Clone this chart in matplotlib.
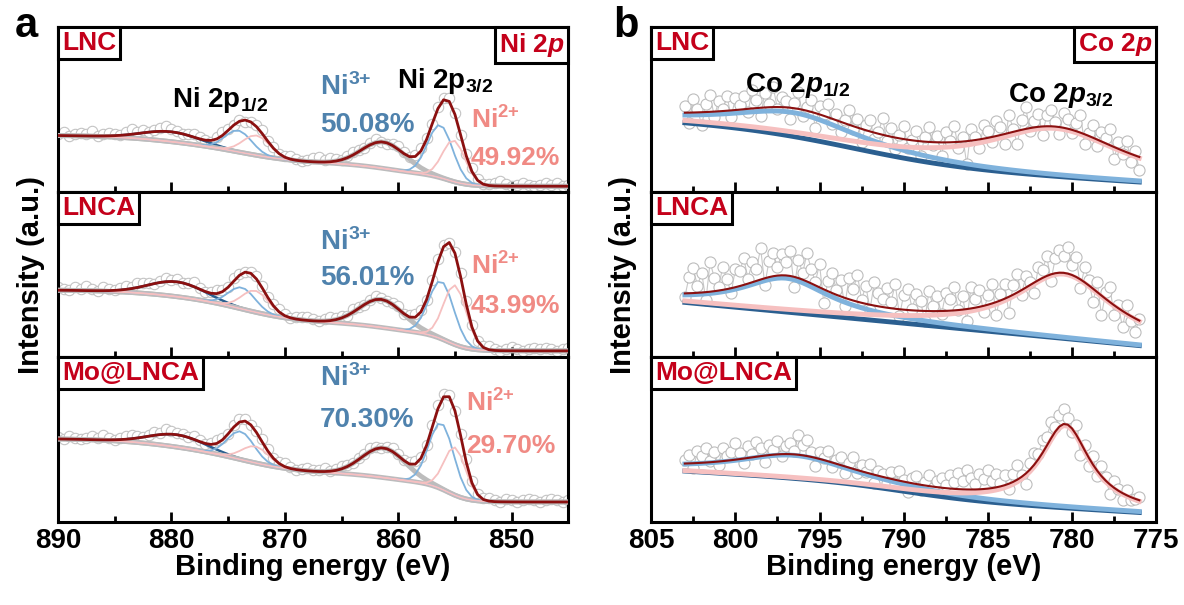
import numpy as np
import matplotlib.pyplot as plt
from matplotlib.ticker import MultipleLocator

plt.rcParams['font.family'] = ['Liberation Sans', 'DejaVu Sans']
plt.rcParams['font.weight'] = 'bold'
plt.rcParams['mathtext.fontset'] = 'custom'
plt.rcParams['mathtext.rm'] = 'Liberation Sans:bold'
plt.rcParams['mathtext.it'] = 'Liberation Sans:italic:bold'
plt.rcParams['mathtext.bf'] = 'Liberation Sans:bold'

samples = ['LNC', 'LNCA', 'Mo@LNCA']

# ---------------- Ni 2p (panel a) ----------------
ni_be = np.arange(890, 844.9, -0.5)
# peaks: Ni3+ 2p3/2, Ni2+ 2p3/2, sat, Ni3+ 2p1/2, Ni2+ 2p1/2, sat
ni_center = [[856.3, 855.1, 861.3, 874.1, 872.5, 880.0],
             [856.2, 855.0, 861.5, 873.8, 872.6, 879.5],
             [856.2, 855.0, 861.3, 873.9, 872.6, 879.5]]
ni_height = [[0.32, 0.25, 0.16, 0.13, 0.12, 0.06],
             [0.35, 0.36, 0.17, 0.13, 0.13, 0.09],
             [0.40, 0.29, 0.18, 0.17, 0.10, 0.075]]
ni_fwhm = [[2.6, 2.35, 4.5, 2.8, 2.8, 6.0],
           [2.6, 2.35, 4.5, 2.8, 2.8, 5.8],
           [2.6, 2.25, 4.5, 2.8, 2.8, 5.8]]
ni_bg_low = [0.036, 0.038, 0.122]
ni_bg_step = [[0.065, 0.075, 0.11, 0.06],
              [0.10, 0.07, 0.15, 0.05],
              [0.11, 0.065, 0.14, 0.07]]
ni_bg_step_center = [855.6, 860.8, 873.5, 880.5]
ni_bg_step_width = [0.9, 2.0, 2.5, 3.0]
ni_resid = [
    [1, 2, 0, 1, 2, 1, 3, 0, 1, 2, 1, 0, 2, 3, 1, 2, 0, 1, 2, 3,
     2, 1, 0, 1, 2, 1, 0, -1, 1, 2, 1, 0, 1, -1, 0, 1, 2, 0, 1, 0,
     1, 2, 1, 0, 1, 2, 3, 1, 2, 1, 0, 1, 2, 1, 0, 1, 2, 0, -1, 1,
     2, 1, 0, 1, 2, 1, 0, 1, 1, 2, 1, 0, 1, 2, 1, 0, 1, 2, 3, 1,
     0, 1, 2, 1, 0, 1, 2, 1, 2, 0, 1],
    [2, 1, 0, 2, 1, 3, 1, 0, 2, 1, 0, 1, 2, 1, 3, 2, 1, 0, 1, 2,
     1, 2, 0, 1, 3, 1, 0, 1, 2, 1, 0, 2, 1, 0, 1, 2, 1, 0, 1, 2,
     1, 0, 1, 2, 2, 1, 0, 1, 2, 1, 1, 0, 2, 1, 0, 1, 2, 1, 0, 1,
     2, 0, 1, 2, 1, 0, 1, 2, 1, 0, 1, 2, 2, 1, 0, 1, 2, 1, 0, 1,
     2, 1, 0, 1, 2, 1, 2, 1, 0, 1, 2],
    [1, 0, 2, 1, 0, 1, 2, 1, 3, 1, 0, 1, 2, 2, 1, 0, 1, 2, 1, 3,
     2, 1, 1, 0, 2, 1, 0, 1, 2, 1, 0, 1, 2, 1, 0, 1, 2, 1, 0, 1,
     2, 1, 0, 1, 2, 1, 1, 2, 0, 1, 2, 1, 0, 1, 1, 2, 1, 0, 1, 2,
     1, 0, 1, 2, 1, 0, 1, 2, 2, 1, 0, 1, 2, 1, 0, 1, 2, 1, 0, 2,
     1, 0, 1, 2, 1, 0, 1, 2, 1, 0, 1]]
ni3_pct = ['50.08%', '56.01%', '70.30%']
ni2_pct = ['49.92%', '43.99%', '29.70%']
ni3_pos = [(0.636, 0.41), (0.70, 0.48), (0.87, 0.62)]
ni2_pos = [(853.6, 0.437, 0.21), (853.6, 0.55, 0.31), (854.0, 0.72, 0.46)]

# ---------------- Co 2p (panel b) ----------------
co_be = np.arange(803, 775.9, -0.25)
# peaks: Co 2p1/2, Co 2p3/2
co_center = [[796.5, 781.0], [797.0, 780.5], [796.5, 780.4]]
co_height = [[0.145, 0.29], [0.205, 0.39], [0.14, 0.50]]
co_fwhm = [[9.0, 10.0], [6.4, 7.0], [8.6, 3.5]]
co_bg_low = [0.06, 0.07, 0.058]
co_bg_slope = [0.006, 0.0097, 0.006]
co_bg_step = [0.21, 0.0, 0.09]
co_bg_step_center = [793.0, 790.0, 790.0]
co_bg_step_width = [3.5, 3.0, 2.5]
co_resid = [
    [4, -6, 8, 2, -8, 5, 10, -3, 6, 1, 9, -4, 7,
     3, 8, -2, 11, 5, -5, 9, 2, 12, -1, 6, 4,
     -7, 3, 10, -4, 2, 7, -9, 5, 1, 8, -3, 4,
     -6, 2, 9, -2, 5, -8, 3, 7, -4, 1, 10, -3,
     5, -7, 2, 8, -5, 0, 6, -9, 3, 9, -2, 4,
     -8, 6, 1, 10, -4, 3, -14, 7, 2, -5, 8, 4,
     -3, 9, 5, -6, 11, 2, -8, 6, 13, -2, 4, 8,
     -5, 7, 10, 3, -4, 9, 6, -2, 5, 11, -6, 2,
     8, -4, 6, 3, 10, -7, 4, -2, 7, -5, 3, -8],
    [-2, 10, 15, 4, 12, -5, 18, 8, 2, 14, 6, -3, 11,
     9, 16, 3, 12, 7, 19, -4, 10, 14, 5, 13, 8,
     15, -6, 11, 4, 17, 9, 2, 14, -8, 6, 12, 3,
     10, -5, 13, 7, 16, 2, 11, -3, 14, 8, 5, 12,
     4, 15, -4, 9, 13, 1, 10, 6, -6, 12, 3, 9,
     -2, 11, 7, 14, 0, 8, -7, 13, 5, 10, -4, 6,
     12, -8, 4, 9, -10, 6, 11, -3, 7, 2, -6, 8,
     5, 12, -4, 9, 14, 10, 16, 6, 12, -5, 9, 3,
     -8, 6, -12, 4, 9, -6, 2, -10, 5, -3, -8, 1],
    [2, 5, -3, 7, 4, 9, 1, 6, -2, 8, 3, 5, 10,
     4, -3, 7, 2, 9, 5, -4, 6, 3, 8, -1, 5,
     7, 2, 12, 6, 10, 3, -5, 4, 1, 6, -3, 2,
     5, -4, 3, 7, -2, 4, 0, 6, -5, 3, 2, -3,
     4, -2, 6, 1, -6, 3, 5, -3, 2, 7, -1, 4,
     6, 2, 8, 4, 10, 5, 12, 7, 3, 9, 6, 11,
     4, 8, 2, 6, -3, 5, 9, 1, -6, 4, 7, 3,
     8, 5, 10, 3, 7, 9, 4, -2, 6, -8, 3, -5,
     5, -3, 6, 2, -6, 4, 1, -4, 3, -2, 0, 2]]

RED = '#c4001a'
BLUE_T = '#4f82ad'
PINK_T = '#f08a84'
ENV = '#8b1010'
LBLUE = '#7fb2dc'
PINK = '#f6c0c0'
DBLUE = '#2b5f90'
GRAY = '#bcbcbc'


def peak(e, c, h, fwhm, eta):
    g = np.exp(-4 * np.log(2) * ((e - c) / fwhm) ** 2)
    lo = 1 / (1 + 4 * ((e - c) / fwhm) ** 2)
    return h * ((1 - eta) * g + eta * lo)


def sig(x):
    return 1 / (1 + np.exp(-x))


def tag(ax, s, right=False):
    pad = 3
    ax.annotate(s, xy=(1 if right else 0, 1), xycoords='axes fraction',
                xytext=(-pad if right else pad, -pad), textcoords='offset points',
                ha='right' if right else 'left', va='top', fontsize=19,
                color=RED, fontweight='bold', zorder=10,
                bbox=dict(boxstyle='square,pad=0.15', fc='white', ec='black', lw=2.2))


def style(ax, last, major, minor):
    for sp in ax.spines.values():
        sp.set_linewidth(2.2)
    ax.set_yticks([])
    ax.xaxis.set_major_locator(MultipleLocator(major))
    ax.xaxis.set_minor_locator(MultipleLocator(minor))
    ax.tick_params(axis='x', which='both', direction='in', top=False, width=2,
                   labelsize=20, pad=4, labelbottom=last)
    ax.tick_params(axis='x', which='major', length=7)
    ax.tick_params(axis='x', which='minor', length=4)
    ax.set_ylim(0, 1)


fig = plt.figure(figsize=(11.84, 6.05), dpi=100)
h = 0.818 / 3
bot = 0.137

# panel a
for i in range(3):
    ax = fig.add_axes([0.049, bot + (2 - i) * h, 0.431, h])
    e = ni_be
    bg = ni_bg_low[i] + sum(s * sig((e - c) / w) for s, c, w in
                            zip(ni_bg_step[i], ni_bg_step_center, ni_bg_step_width))
    comps = [peak(e, c, hh, f, 0.0) for c, hh, f in
             zip(ni_center[i], ni_height[i], ni_fwhm[i])]
    env = bg + sum(comps)
    ax.plot(e, env + np.array(ni_resid[i]) / 100, 'o', ms=7.5, mfc='white',
            mec='#c4c4c4', mew=0.8, zorder=1)
    ax.plot(e, bg + comps[5], color=DBLUE, lw=1.8, zorder=2)
    ax.plot(e, bg, color=GRAY, lw=3.5, zorder=3)
    ax.plot(e, bg + comps[2], color=GRAY, lw=3.5, zorder=3)
    for k in (0, 3):
        ax.plot(e, bg + comps[k], color=LBLUE, lw=1.3, zorder=4)
    for k in (1, 4):
        ax.plot(e, bg + comps[k], color=PINK, lw=1.3, zorder=4)
    ax.plot(e, env, color=ENV, lw=2, zorder=5)
    ax.set_xlim(890, 845)
    style(ax, i == 2, 10, 5)
    tag(ax, samples[i])
    ax.text(866.9, ni3_pos[i][0], 'Ni$^{3{+}}$', color=BLUE_T, fontsize=20,
            ha='left', va='center')
    ax.text(866.9, ni3_pos[i][1], ni3_pct[i], color=BLUE_T, fontsize=20,
            ha='left', va='center')
    ax.text(ni2_pos[i][0], ni2_pos[i][1], 'Ni$^{2{+}}$', color=PINK_T, fontsize=19,
            ha='left', va='center')
    ax.text(ni2_pos[i][0], ni2_pos[i][2], ni2_pct[i], color=PINK_T, fontsize=19,
            ha='left', va='center')
    if i == 0:
        tag(ax, 'Ni 2$p$', right=True)
        ax.text(875.7, 0.557, 'Ni 2p$_{1/2}$', fontsize=20, ha='center', va='center')
        ax.text(855.9, 0.676, 'Ni 2p$_{3/2}$', fontsize=20, ha='center', va='center')

# panel b
for i in range(3):
    ax = fig.add_axes([0.55, bot + (2 - i) * h, 0.4265, h])
    e = co_be
    bg = (co_bg_low[i] + co_bg_slope[i] * (e - e.min())
          + co_bg_step[i] * sig((e - co_bg_step_center[i]) / co_bg_step_width[i]))
    p1 = peak(e, co_center[i][0], co_height[i][0], co_fwhm[i][0], 1.0)
    p2 = peak(e, co_center[i][1], co_height[i][1], co_fwhm[i][1], 1.0)
    env = bg + p1 + p2
    ax.plot(e, env + np.array(co_resid[i]) / 100, '-o', color='#c8c8c8', lw=0.8,
            ms=8, mfc='white', mec='#bdbdbd', mew=0.8, zorder=1)
    ax.plot(e, bg, color=DBLUE, lw=3.5, zorder=2)
    ax.plot(e, bg + p1, color=LBLUE, lw=3.5, zorder=3)
    ax.plot(e, bg + p2, color=PINK, lw=3.5, zorder=4)
    ax.plot(e, env, color=ENV, lw=1.5, zorder=5)
    ax.set_xlim(805, 775)
    style(ax, i == 2, 5, 2.5)
    tag(ax, samples[i])
    if i == 0:
        tag(ax, 'Co 2$p$', right=True)
        ax.text(796.3, 0.646, 'Co 2$p_{1/2}$', fontsize=20, ha='center', va='center')
        ax.text(780.7, 0.586, 'Co 2$p_{3/2}$', fontsize=20, ha='center', va='center')

for x in (0.264, 0.763):
    fig.text(x, 0.063, 'Binding energy (eV)', fontsize=21, ha='center', va='center')
for x in (0.026, 0.526):
    fig.text(x, 0.546, 'Intensity (a.u.)', fontsize=21, rotation=90,
             ha='center', va='center')
fig.text(0.022, 0.939, 'a', fontsize=30, ha='center', va='baseline')
fig.text(0.529, 0.939, 'b', fontsize=30, ha='center', va='baseline')

fig.savefig('out.png', dpi=100)
